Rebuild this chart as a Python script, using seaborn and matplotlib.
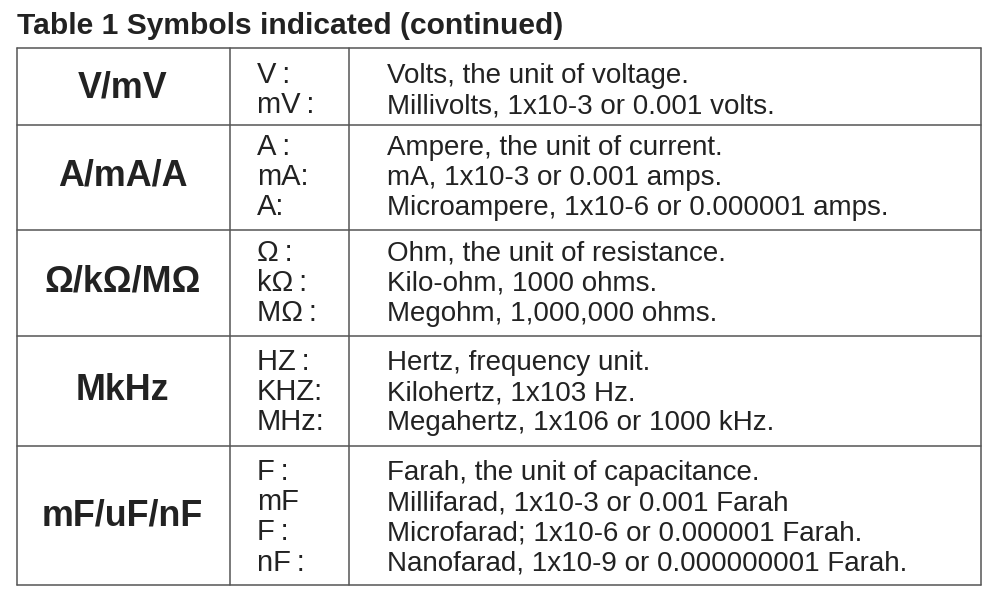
import pandas as pd
import matplotlib
matplotlib.use("Agg")
import matplotlib.pyplot as plt
import seaborn as sns

sns.set_theme(style="white")
plt.rcParams["font.family"] = ["Liberation Sans", "DejaVu Sans"]

title = "Table 1 Symbols indicated (continued)"
groups = ["V/mV", "A/mA/A", "Ω/kΩ/MΩ", "MkHz", "mF/uF/nF"]
symbols = [
    ["V\u2009:", "mV\u2009:"],
    ["A\u2009:", "mA:", "A:"],
    ["Ω\u2009:", "kΩ\u2009:", "MΩ\u2009:"],
    ["HZ\u2009:", "KHZ:", "MHz:"],
    ["F\u2009:", "mF", "F\u2009:", "nF\u2009:"],
]
meanings = [
    ["Volts, the unit of voltage.", "Millivolts, 1x10-3 or 0.001 volts."],
    ["Ampere, the unit of current.", "mA, 1x10-3 or 0.001 amps.",
     "Microampere, 1x10-6 or 0.000001 amps."],
    ["Ohm, the unit of resistance.", "Kilo-ohm, 1000 ohms.",
     "Megohm, 1,000,000 ohms."],
    ["Hertz, frequency unit.", "Kilohertz, 1x103 Hz.",
     "Megahertz, 1x106 or 1000 kHz."],
    ["Farah, the unit of capacitance.", "Millifarad, 1x10-3 or 0.001 Farah",
     "Microfarad; 1x10-6 or 0.000001 Farah.",
     "Nanofarad, 1x10-9 or 0.000000001 Farah."],
]

# table layout, in image pixels
col_x = [17, 230, 349, 981]
row_y = [48, 125, 230, 336, 446, 585]
first_base = [83, 155, 260.6, 370, 480]
line_step = 30.2
group_base = [98, 186, 292, 400, 526]
ink = "#222222"

# rules as one long table, one unit per segment
rules = []
for i, y in enumerate(row_y):
    rules += [{"x": col_x[0], "y": y, "seg": f"h{i}"},
              {"x": col_x[-1], "y": y, "seg": f"h{i}"}]
for i, x in enumerate(col_x):
    rules += [{"x": x, "y": row_y[0], "seg": f"v{i}"},
              {"x": x, "y": row_y[-1], "seg": f"v{i}"}]
rules = pd.DataFrame(rules)

fig = plt.figure(figsize=(9.96, 5.92), dpi=100)
ax = fig.add_axes([0, 0, 1, 1])
sns.lineplot(data=rules, x="x", y="y", units="seg", estimator=None, sort=False,
             color="#555555", linewidth=1.1, ax=ax, legend=False)
ax.set_xlim(0, 996)
ax.set_ylim(592, 0)
ax.axis("off")

ax.text(17, 33.5, title, fontsize=21.6, fontweight="bold", color=ink, va="baseline")

for i, group in enumerate(groups):
    ax.text((col_x[0] + col_x[1]) / 2 - 1, group_base[i], group, fontsize=25.8,
            fontweight="bold", color=ink, ha="center", va="baseline")
    for j, (sym, text) in enumerate(zip(symbols[i], meanings[i])):
        y = first_base[i] + j * line_step
        ax.text(257, y, sym, fontsize=21, color=ink, va="baseline")
        ax.text(387, y, text, fontsize=19.95, color=ink, va="baseline")

fig.savefig("out.png", dpi=100, facecolor="white")
